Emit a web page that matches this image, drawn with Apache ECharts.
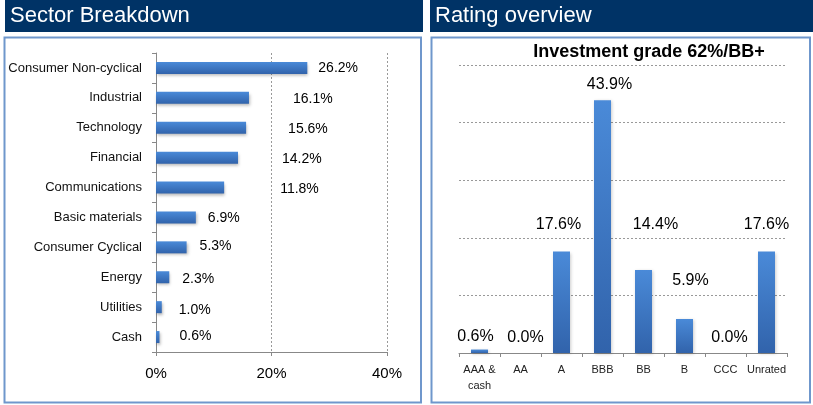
<!DOCTYPE html>
<html><head><meta charset="utf-8">
<script src="https://cdn.jsdelivr.net/npm/echarts@6/dist/echarts.min.js"></script>
<style>html,body{margin:0;padding:0;background:#fff}#c{width:813px;height:405px}</style>
</head><body><div id="c"></div>
<script>
// ---- Data ----
const sectorCategories = ['Consumer Non-cyclical','Industrial','Technology','Financial','Communications','Basic materials','Consumer Cyclical','Energy','Utilities','Cash'];
const sectorValues = [26.2, 16.1, 15.6, 14.2, 11.8, 6.9, 5.3, 2.3, 1.0, 0.6];
const sectorTicks = [0, 20, 40];
const ratingCategories = ['AAA &\ncash','AA','A','BBB','BB','B','CCC','Unrated'];
const ratingValues = [0.6, 0.0, 17.6, 43.9, 14.4, 5.9, 0.0, 17.6];
const ratingTitle = 'Investment grade 62%/BB+';

// ---- label nudges (style only) ----
const sectorLabelOffsets = [[6,0],[39,1],[37,1],[39,1],[51,2],[7,1],[8,-1],[8,2],[12,3],[15,-1]];
const ratingLabelOffsets = [[-4,0],[5,-2],[-3,-14],[7,-3],[12,-32],[6,-25],[4,-2],[0,-14]];

const FONT = '"Liberation Sans", Arial, sans-serif';
const barGrad = new echarts.graphic.LinearGradient(0,0,0,1,[{offset:0,color:'#4a8ad8'},{offset:1,color:'#3163ab'}]);

const chart = echarts.init(document.getElementById('c'), null, {renderer:'canvas'});
chart.setOption({
  animation:false,
  textStyle:{fontFamily:FONT},
  graphic:[
    {type:'rect',shape:{x:5,y:0,width:418,height:32},style:{fill:'#003366'},z:0},
    {type:'rect',shape:{x:430,y:0,width:383,height:32},style:{fill:'#003366'},z:0},
    {type:'text',x:10,y:16,style:{text:'Sector Breakdown',fill:'#fff',font:'22px '+FONT,textVerticalAlign:'middle'},z:1},
    {type:'text',x:435,y:16,style:{text:'Rating overview',fill:'#fff',font:'22px '+FONT,textVerticalAlign:'middle'},z:1},
    {type:'rect',shape:{x:4.5,y:37.5,width:416.5,height:365},style:{fill:'none',stroke:'#6f97cc',lineWidth:2},z:0},
    {type:'rect',shape:{x:431.5,y:37.5,width:378.5,height:365},style:{fill:'none',stroke:'#6f97cc',lineWidth:2},z:0},
    {type:'text',x:649,y:52,style:{text:ratingTitle,fill:'#000',font:'bold 18px '+FONT,textAlign:'center',textVerticalAlign:'middle'},z:1}
  ],
  grid:[
    {left:156,top:53,width:231,height:299,containLabel:false},
    {left:459,top:65,width:328,height:288,containLabel:false}
  ],
  xAxis:[
    {gridIndex:0,type:'value',min:0,max:40,interval:20,
     axisLine:{show:true,lineStyle:{color:'#888',width:1}},
     axisTick:{show:true,length:4,lineStyle:{color:'#888'}},
     axisLabel:{formatter:'{value}%',fontSize:15,color:'#000',margin:14,
       customValues:sectorTicks},
     splitLine:{show:true,lineStyle:{color:'#999',type:[2,2],width:1}}},
    {gridIndex:1,type:'category',data:ratingCategories,
     axisLine:{show:true,lineStyle:{color:'#888'}},
     axisTick:{show:true,length:4,alignWithLabel:false,lineStyle:{color:'#888'}},
     axisLabel:{fontSize:11,color:'#222',margin:9,lineHeight:16,interval:0}}
  ],
  yAxis:[
    {gridIndex:0,type:'category',data:sectorCategories,inverse:true,
     axisLine:{show:true,lineStyle:{color:'#888'}},
     axisTick:{show:true,length:4,lineStyle:{color:'#888'}},
     axisLabel:{fontSize:13,color:'#111',margin:14,interval:0}},
    {gridIndex:1,type:'value',min:0,max:50,interval:10,
     axisLine:{show:false},axisTick:{show:false},axisLabel:{show:false},
     splitLine:{show:true,lineStyle:{color:'#999',type:[2,2],width:1}}}
  ],
  series:[
    {type:'bar',xAxisIndex:0,yAxisIndex:0,barWidth:12,
     data:sectorValues.map((v,i)=>({value:v,label:{offset:sectorLabelOffsets[i]}})),
     itemStyle:{color:barGrad,shadowColor:'rgba(0,0,0,0.28)',shadowBlur:3,shadowOffsetY:2,shadowOffsetX:1},
     label:{show:true,position:'right',distance:5,fontSize:14,color:'#000',formatter:p=>p.value.toFixed(1)+'%'}},
    {type:'bar',xAxisIndex:1,yAxisIndex:1,barWidth:17,
     data:ratingValues.map((v,i)=>({value:v,label:{offset:ratingLabelOffsets[i]}})),
     itemStyle:{color:barGrad,shadowColor:'rgba(0,0,0,0.2)',shadowBlur:3,shadowOffsetX:1,shadowOffsetY:1},
     label:{show:true,position:'top',distance:5,fontSize:16,color:'#000',formatter:p=>p.value.toFixed(1)+'%'}}
  ]
});
</script></body></html>
